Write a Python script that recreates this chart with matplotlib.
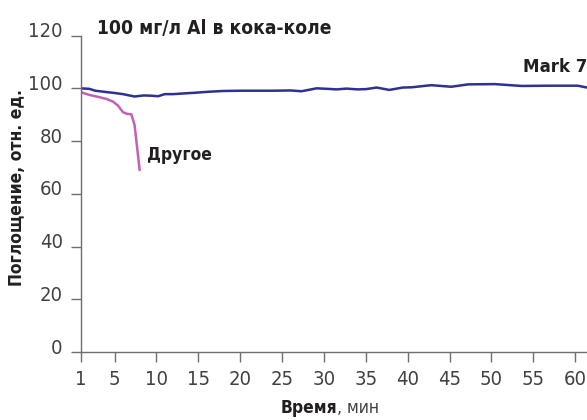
import matplotlib
matplotlib.use("Agg")
import matplotlib.pyplot as plt
import matplotlib.transforms as mtransforms

# ---- data ----
mark7_t = [1, 2, 2.7, 4, 5.1, 6, 7.4, 8.5, 9.4, 10.2, 11, 12, 13.4, 14.5, 16.2, 18, 20.2,
           22, 24, 26, 27.3, 28, 29.1, 30.5, 31.5, 32.7, 34, 35, 36.3, 37.8, 39.4,
           40.5, 42.8, 45.2, 47.2, 50.4, 53.6, 56.7, 60.3, 61.4]
mark7_v = [100, 99.8, 99.1, 98.6, 98.2, 97.8, 96.9, 97.3, 97.2, 97.0, 97.8, 97.8, 98.1, 98.3, 98.7, 99.0, 99.1,
           99.1, 99.1, 99.2, 98.9, 99.3, 100, 99.8, 99.6, 99.9, 99.6, 99.7, 100.3, 99.4, 100.3,
           100.4, 101.2, 100.6, 101.5, 101.6, 100.9, 101.0, 101.0, 100.3]
other_t = [1, 2, 3, 4, 4.8, 5.4, 6.0, 6.5, 7.0, 7.4, 8.0]
other_v = [98.5, 97.5, 96.8, 96.0, 95.0, 93.5, 91.0, 90.3, 90.2, 86.0, 69.0]

xticks = [1, 5, 10, 15, 20, 25, 30, 35, 40, 45, 50, 55, 60]
yticks = [0, 20, 40, 60, 80, 100, 120]

title = "100 мг/л Al в кока-коле"
label_mark7 = "Mark 7"
label_other = "Другое"
ylabel = "Поглощение, отн. ед."
xlabel_bold = "Время"
xlabel_rest = ", мин"

# ---- style ----
plt.rcParams['font.family'] = ['DejaVu Sans']
plt.rcParams['font.stretch'] = 'condensed'

W, H = 587, 420
fig = plt.figure(figsize=(W / 100, H / 100), dpi=100)
left, right = 81, 587
bottom, top = 352, 35.6
ax = fig.add_axes([left / W, 1 - bottom / H, (right - left) / W, (bottom - top) / H])

axcol = '#6d6e71'
txtcol = '#231f20'
ax.plot(mark7_t, mark7_v, color='#2e3192', lw=1.8, solid_capstyle='round')
ax.plot(other_t, other_v, color='#c461b5', lw=1.8, solid_capstyle='round')

ax.set_xlim(1, 61.4)
ax.set_ylim(0, 120)
ax.set_xticks(xticks)
ax.set_yticks(yticks)
for s in ['top', 'right']:
    ax.spines[s].set_visible(False)
for s in ['left', 'bottom']:
    ax.spines[s].set_color(axcol)
    ax.spines[s].set_linewidth(1.0)
ax.tick_params(axis='both', colors=axcol, labelcolor='#414042', length=7.2, width=1.0,
               labelsize=14.5)
ax.tick_params(axis='y', pad=6)
ax.tick_params(axis='x', pad=6)
up = mtransforms.ScaledTranslation(0, 6 / 100, fig.dpi_scale_trans)
for lab in ax.get_yticklabels():
    lab.set_transform(lab.get_transform() + up)
ax.spines['bottom'].set_clip_on(False)

fig.text(97 / W, 1 - 28 / H, title, fontsize=13.8,
         fontweight='bold', color=txtcol, ha='left', va='center')
fig.text(587 / W, 1 - 67 / H, label_mark7, fontsize=13.3,
         fontweight='bold', color=txtcol, ha='right', va='center')
fig.text(147 / W, 1 - 155 / H, label_other, fontsize=12.5,
         fontweight='bold', color=txtcol, ha='left', va='center')
fig.text(17 / W, 1 - 187 / H, ylabel, rotation=90, fontsize=12.5, fontweight='bold',
         color=txtcol, ha='center', va='center')
fig.text(337 / W, 1 - 408 / H, xlabel_bold, fontsize=12.5, fontweight='bold',
         color=txtcol, ha='right', va='center')
fig.text(337 / W, 1 - 408 / H, xlabel_rest, fontsize=12.5, color='#414042',
         ha='left', va='center')

fig.savefig('out.png', dpi=100)
